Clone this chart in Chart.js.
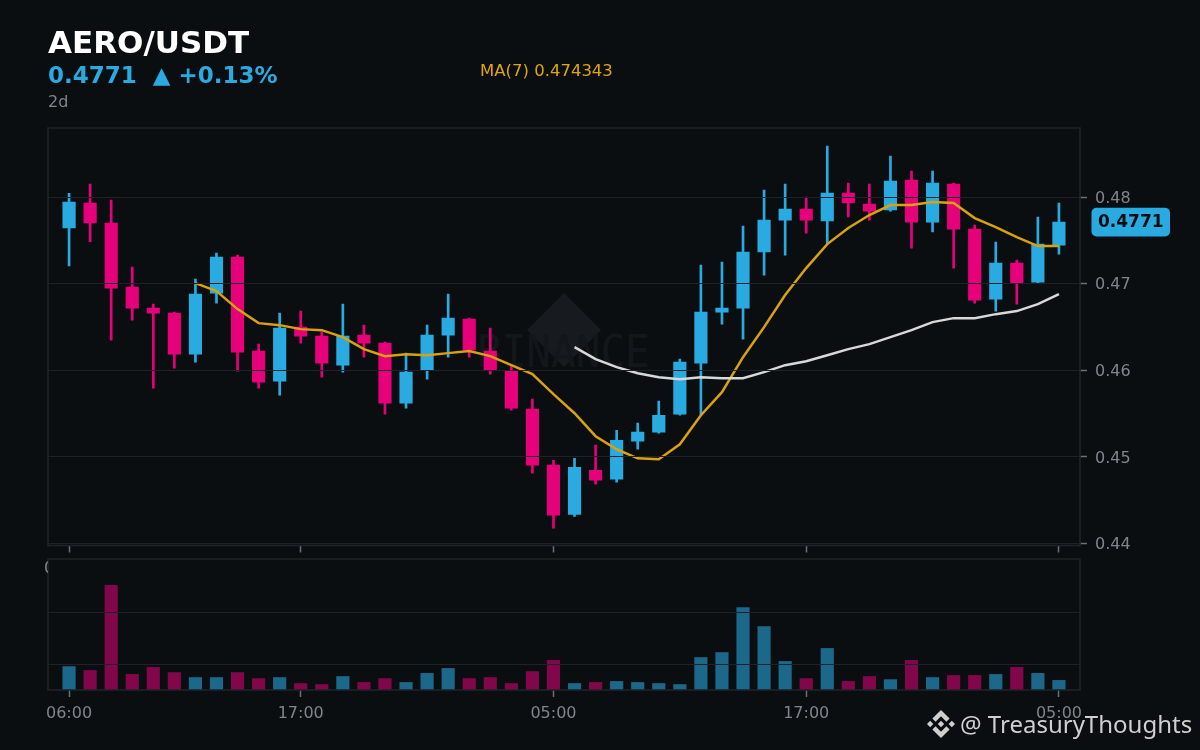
<!DOCTYPE html>
<html>
<head>
<meta charset="utf-8">
<title>AERO/USDT</title>
<script src="https://cdn.jsdelivr.net/npm/chart.js@4"></script>
<style>
  html, body { margin: 0; padding: 0; width: 1200px; height: 750px; background: #0b0e11; overflow: hidden; font-family: "DejaVu Sans", sans-serif; }
  .t { position: absolute; white-space: pre; line-height: 1; }
  canvas { position: absolute; left: 0; top: 0; }
  #title { left: 48px; top: 27px; font-size: 31px; font-weight: bold; color: #ffffff; }
  #sub { left: 48px; top: 64px; font-size: 23px; font-weight: bold; color: #29abe2; }
  #tf { left: 48px; top: 94px; font-size: 16px; color: #7f858e; }
  #ma { left: 480px; top: 63px; font-size: 16.5px; color: #e0a50b; }
  #wmLogo { position: absolute; left: 527px; top: 293px; }
  #wmText { left: 477px; top: 330px; font-family: "DejaVu Sans Mono", monospace; font-size: 41px; color: #13171c; transform: scaleY(1.08); transform-origin: left top; }
  #clip0 { position: absolute; left: 45px; top: 560px; width: 3px; height: 16px; overflow: hidden; }
  #clip0 span { position: absolute; left: -1px; top: 0; font-size: 16px; line-height: 16px; color: #7f858e; }
  #sigLogo { position: absolute; left: 927px; top: 710px; }
  #sig { left: 960px; top: 712px; font-family: "Noto Sans", sans-serif; font-size: 24px; color: #cfcfcf; }
</style>
</head>
<body>
<svg id="wmLogo" width="74" height="74" viewBox="0 0 74 74"><polygon points="37,0 74,37 37,74 0,37" fill="#171a1e"/></svg>
<div class="t" id="wmText">BINANCE</div>
<canvas id="price" width="1200" height="750"></canvas>
<canvas id="vol" width="1200" height="750"></canvas>
<div class="t" id="title">AERO/USDT</div>
<div class="t" id="sub">0.4771  ▲ +0.13%</div>
<div class="t" id="tf">2d</div>
<div class="t" id="ma">MA(7) 0.474343</div>
<div id="clip0"><span>0</span></div>
<svg id="sigLogo" width="28" height="28" viewBox="0 0 24 24"><path fill="#cfcfcf" d="M16.624 13.9202l2.7175 2.7154-7.353 7.353-7.353-7.352 2.7175-2.7164 4.6355 4.6595 4.6356-4.6595zm4.6366-4.6366L24 12l-2.7154 2.7164L18.5682 12l2.6924-2.7164zm-9.272.001l2.7163 2.6914-2.7164 2.7174v-.001L9.2721 12l2.7164-2.7154zm-9.2722-.001L5.4088 12l-2.6914 2.6924L0 12l2.7164-2.7164zM11.9885.0115l7.353 7.329-2.7174 2.7154-4.6356-4.6356-4.6355 4.6595-2.7174-2.7154 7.353-7.353z"/></svg>
<div class="t" id="sig">@ TreasuryThoughts</div>

<script>
const categories = ['06:00','07:00','08:00','09:00','10:00','11:00','12:00','13:00','14:00','15:00','16:00','17:00','18:00','19:00','20:00','21:00','22:00','23:00','00:00','01:00','02:00','03:00','04:00','05:00','06:00','07:00','08:00','09:00','10:00','11:00','12:00','13:00','14:00','15:00','16:00','17:00','18:00','19:00','20:00','21:00','22:00','23:00','00:00','01:00','02:00','03:00','04:00','05:00'];
const opens = [.47642,.47931,.47700,.46960,.46717,.46660,.46186,.46891,.47307,.46221,.45874,.46498,.46394,.46059,.46406,.46313,.45620,.46001,.46406,.46590,.46221,.45990,.45551,.44904,.44337,.44846,.44742,.45181,.45285,.45493,.46082,.46671,.46717,.47365,.47734,.47861,.47723,.48046,.47919,.47850,.48196,.47711,.48150,.47630,.46821,.47237,.47018,.47445];
const highs = [.48043,.48150,.47965,.47191,.46764,.46671,.47053,.47353,.47330,.46302,.46660,.46683,.46440,.46764,.46521,.46325,.46198,.46521,.46879,.46602,.46486,.46047,.45666,.44961,.44984,.45135,.45308,.45389,.45643,.46128,.47214,.47249,.47665,.48081,.48150,.48000,.48589,.48162,.48150,.48474,.48300,.48300,.48162,.47676,.47480,.47272,.47769,.47931];
const lows = [.47206,.47484,.46348,.46579,.45793,.46024,.46094,.46775,.45990,.45793,.45712,.46313,.45920,.45978,.46151,.45493,.45562,.45897,.46151,.46151,.45955,.45539,.44811,.44176,.44314,.44684,.44707,.45088,.45273,.45481,.45481,.46533,.46359,.47099,.47330,.47584,.47457,.47769,.47734,.47838,.47411,.47596,.47180,.46775,.46683,.46764,.47006,.47341];
const closes = [.47942,.47700,.46949,.46717,.46660,.46186,.46879,.47307,.46209,.45862,.46486,.46394,.46082,.46394,.46313,.45620,.45978,.46406,.46602,.46232,.46001,.45562,.44904,.44326,.44880,.44730,.45192,.45285,.45481,.46094,.46671,.46717,.47365,.47734,.47861,.47734,.48046,.47931,.47838,.48185,.47711,.48162,.47630,.46810,.47237,.47006,.47457,.47710];
const ma7 = [null,null,null,null,null,null,.47006,.46914,.46706,.46544,.46521,.46475,.46463,.46382,.46244,.46163,.46186,.46174,.46198,.46221,.46163,.46059,.45955,.45724,.45504,.45239,.45088,.44984,.44973,.45146,.45481,.45747,.46151,.46498,.46868,.47180,.47457,.47642,.47792,.47908,.47908,.47942,.47931,.47757,.47653,.47538,.47434,.47434];
const ma25 = [null,null,null,null,null,null,null,null,null,null,null,null,null,null,null,null,null,null,null,null,null,null,null,null,.46267,.46128,.46036,.45966,.45920,.45897,.45920,.45909,.45909,.45978,.46059,.46105,.46174,.46244,.46302,.46382,.46463,.46556,.46602,.46602,.46648,.46683,.46764,.46879];
const volumes = [.9,.75,4.03,.6,.87,.67,.48,.48,.67,.44,.48,.25,.21,.52,.29,.44,.29,.64,.83,.44,.48,.25,.71,1.14,.25,.29,.33,.29,.25,.21,1.25,1.44,3.17,2.44,1.1,.44,1.6,.33,.52,.4,1.14,.48,.56,.56,.6,.87,.64,.37];
const priceTicks = [.44,.45,.46,.47,.48];
const volumeTicks = [1,3];
const timeTickIndex = [0,11,23,35,47];
const lastPrice = 0.4771;
const lastPriceLabel = '0.4771';

const BLUE = '#29abe2', PINK = '#e6007a', GRID = '#1e2329', TICK = '#6b7078', LABEL = '#7f858e';
const isUp = i => closes[i] >= opens[i];
const candleColor = c => isUp(c.dataIndex) ? BLUE : PINK;
const volColor = c => isUp(c.dataIndex) ? 'rgba(41,171,226,0.58)' : 'rgba(230,0,122,0.55)';

Chart.defaults.font.family = '"DejaVu Sans", sans-serif';
Chart.defaults.font.size = 16;
Chart.defaults.animation = false;

const frame = {
  id: 'frame',
  afterDraw(chart) {
    const a = chart.chartArea, g = chart.ctx;
    g.save();
    g.strokeStyle = GRID;
    g.lineWidth = 1.6;
    g.strokeRect(a.left, a.top, a.right - a.left, a.bottom - a.top);
    g.restore();
  }
};
const badge = {
  id: 'badge',
  afterDraw(chart) {
    const g = chart.ctx, y = chart.scales.y.getPixelForValue(lastPrice), x = chart.chartArea.right + 11.5;
    g.save();
    g.fillStyle = BLUE;
    g.beginPath();
    g.roundRect(x, y - 14.3, 78.5, 28.6, 5);
    g.fill();
    g.fillStyle = '#0b0e11';
    g.font = 'bold 17px "DejaVu Sans"';
    g.textBaseline = 'middle';
    g.fillText(lastPriceLabel, x + 6.5, y + 0.5);
    g.restore();
  }
};

const timeAxis = (showLabels, h) => ({
  type: 'linear', min: -1, max: categories.length, offset: false,
  afterBuildTicks(s) { s.ticks = timeTickIndex.map(v => ({ value: v })); },
  afterFit(s) { s.height = h; },
  grid: { offset: false, drawOnChartArea: false, drawTicks: true, tickLength: 7, tickColor: TICK, tickWidth: 1.5 },
  border: { display: false },
  ticks: {
    display: showLabels, autoSkip: false, maxRotation: 0, color: LABEL, padding: 7,
    font: { size: 16 },
    callback: v => categories[v]
  }
});

new Chart(document.getElementById('price'), {
  type: 'bar',
  data: {
    datasets: [
      { type: 'line', label: 'MA(7)', order: 1, data: ma7.map((y, x) => ({ x, y })), borderColor: '#d9a10c', borderWidth: 2.5, pointRadius: 0, tension: 0, spanGaps: false },
      { type: 'line', label: 'MA(25)', order: 0, data: ma25.map((y, x) => ({ x, y })), borderColor: '#d8d8d8', borderWidth: 2.5, pointRadius: 0, tension: 0, spanGaps: false },
      { label: 'Body', order: 2, data: opens.map((o, x) => ({ x, y: [o, closes[x]] })), backgroundColor: candleColor, barThickness: 12.5, grouped: false },
      { label: 'Wick', order: 3, data: lows.map((l, x) => ({ x, y: [l, highs[x]] })), backgroundColor: candleColor, barThickness: 2, grouped: false }
    ]
  },
  options: {
    responsive: false,
    devicePixelRatio: 1,
    layout: { padding: { left: 48, top: 128, right: 0, bottom: 0 } },
    plugins: { legend: { display: false }, tooltip: { enabled: false } },
    scales: {
      x: timeAxis(false, 204.5),
      y: {
        position: 'right', min: 0.43977, max: 0.48797,
        afterBuildTicks(s) { s.ticks = priceTicks.map(v => ({ value: v })); },
        afterFit(s) { s.width = 120; },
        grid: { color: GRID, lineWidth: 1, z: 1, tickLength: 7, tickColor: TICK, tickWidth: 1.5 },
        border: { display: false },
        ticks: { color: LABEL, padding: 8, labelOffset: 1.5, font: { size: 16 }, callback: v => v.toFixed(2) }
      }
    }
  },
  plugins: [frame, badge]
});

new Chart(document.getElementById('vol'), {
  type: 'bar',
  data: {
    datasets: [
      { label: 'Volume', data: volumes.map((y, x) => ({ x, y })), backgroundColor: volColor, barThickness: 12.5, grouped: false }
    ]
  },
  options: {
    responsive: false,
    devicePixelRatio: 1,
    layout: { padding: { left: 48, top: 559, right: 0, bottom: 0 } },
    plugins: { legend: { display: false }, tooltip: { enabled: false } },
    scales: {
      x: timeAxis(true, 60),
      y: {
        position: 'right', min: 0, max: 5.04,
        afterBuildTicks(s) { s.ticks = volumeTicks.map(v => ({ value: v })); },
        afterFit(s) { s.width = 120; },
        grid: { color: GRID, lineWidth: 1, z: 1, drawTicks: false },
        border: { display: false },
        ticks: { display: false }
      }
    }
  },
  plugins: [frame]
});
</script>
</body>
</html>
